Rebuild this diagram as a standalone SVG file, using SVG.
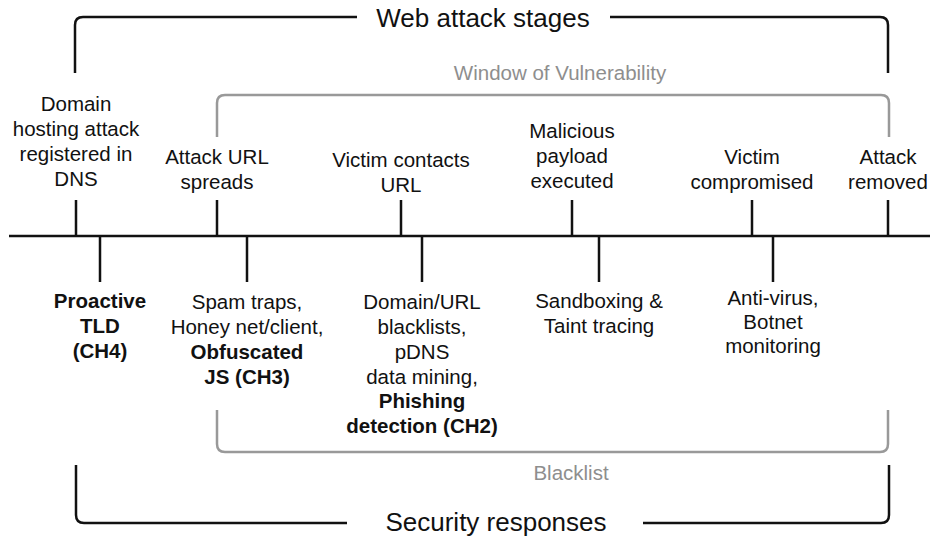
<svg xmlns="http://www.w3.org/2000/svg" width="930" height="538" viewBox="0 0 930 538">
<style>
text{font-family:"Liberation Sans",Arial,Helvetica,sans-serif;font-size:20.5px;fill:#111;text-anchor:middle}
.title{font-size:26px}
.g{fill:#8e8e8e}
.b{font-weight:bold}
.ln{fill:none;stroke:#111;stroke-width:2.5}
.gl{fill:none;stroke:#999;stroke-width:2.5}
</style>
<rect width="930" height="538" fill="#fff"/>
<g id="brackets">
<path class="ln" d="M75,73 L75,25 Q75,17 83,17 L357,17"/>
<path class="ln" d="M610,17 L880,17 Q888,17 888,25 L888,73"/>
<path class="gl" d="M217,137 L217,103 Q217,95 225,95 L881,95 Q889,95 889,103 L889,137"/>
<path class="gl" d="M217,410 L217,444 Q217,452 225,452 L880,452 Q888,452 888,444 L888,410"/>
<path class="ln" d="M76,465 L76,515 Q76,523 84,523 L347,523"/>
<path class="ln" d="M643,523 L881,523 Q889,523 889,515 L889,465"/>
</g>
<g id="titles">
<text class="title" x="483" y="27">Web attack stages</text>
<text class="title" x="496" y="531">Security responses</text>
<text class="g" x="560" y="80">Window of Vulnerability</text>
<text class="g" x="571" y="480">Blacklist</text>
</g>
<g id="connectors">
<path class="ln" d="M9,236 L930,236"/>
<path class="ln" d="M76,200 V236 M217,200 V236 M401,200 V236 M572,200 V236 M752,200 V236 M888,200 V236"/>
<path class="ln" d="M100,236 V282 M247,236 V282 M422,236 V282 M599,236 V282 M773,236 V282"/>
</g>
<g id="stage1"><text x="76" y="111">Domain</text><text x="76" y="136">hosting attack</text><text x="76" y="161">registered in</text><text x="76" y="186">DNS</text></g>
<g id="stage2"><text x="217" y="164">Attack URL</text><text x="217" y="189">spreads</text></g>
<g id="stage3"><text x="401" y="167">Victim contacts</text><text x="401" y="192">URL</text></g>
<g id="stage4"><text x="572" y="138">Malicious</text><text x="572" y="163">payload</text><text x="572" y="188">executed</text></g>
<g id="stage5"><text x="752" y="164">Victim</text><text x="752" y="189">compromised</text></g>
<g id="stage6"><text x="888" y="164">Attack</text><text x="888" y="189">removed</text></g>
<g id="resp1"><text class="b" x="100" y="308">Proactive</text><text class="b" x="100" y="333">TLD</text><text class="b" x="100" y="358">(CH4)</text></g>
<g id="resp2"><text x="247" y="309">Spam traps,</text><text x="247" y="334">Honey net/client,</text><text class="b" x="247" y="359">Obfuscated</text><text class="b" x="247" y="384">JS (CH3)</text></g>
<g id="resp3"><text x="422" y="309">Domain/URL</text><text x="422" y="334">blacklists,</text><text x="422" y="358.5">pDNS</text><text x="422" y="383.5">data mining,</text><text class="b" x="422" y="408">Phishing</text><text class="b" x="422" y="433">detection (CH2)</text></g>
<g id="resp4"><text x="599" y="308">Sandboxing &amp;</text><text x="599" y="333">Taint tracing</text></g>
<g id="resp5"><text x="773" y="305">Anti-virus,</text><text x="773" y="329">Botnet</text><text x="773" y="353">monitoring</text></g>
</svg>
